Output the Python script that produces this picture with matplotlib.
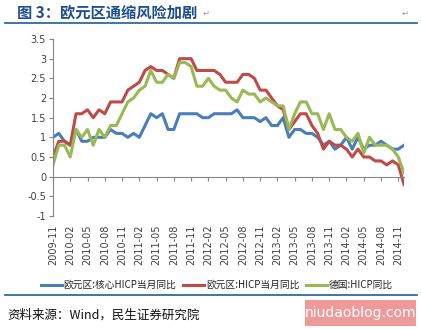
import matplotlib
matplotlib.use("Agg")
import matplotlib.pyplot as plt
import numpy as np
import pandas as pd
from matplotlib.lines import Line2D
from matplotlib.patches import Rectangle

plt.rcParams["font.family"] = ["Noto Sans CJK SC", "DejaVu Sans"]

# 月度数据 2009-11 ~ 2014-12
months = pd.date_range("2009-11-01", periods=62, freq="MS").strftime("%Y-%m").tolist()

core_hicp = [
    1.0, 1.1, 0.9, 0.8, 1.2, 0.9, 0.9, 1.0, 1.0, 1.0, 1.2, 1.1,
    1.1, 1.0, 1.1, 1.0, 1.3, 1.6, 1.5, 1.6, 1.2, 1.2, 1.6, 1.6,
    1.6, 1.6, 1.5, 1.5, 1.6, 1.6, 1.6, 1.6, 1.7, 1.5, 1.5, 1.5,
    1.4, 1.5, 1.3, 1.3, 1.5, 1.0, 1.2, 1.2, 1.1, 1.1, 1.0, 0.8,
    0.9, 0.7, 0.8, 1.0, 0.7, 1.0, 0.7, 0.8, 0.8, 0.9, 0.8, 0.7,
    0.7, 0.8,
]
euro_hicp = [
    0.5, 0.9, 0.9, 0.8, 1.6, 1.6, 1.7, 1.5, 1.7, 1.6, 1.9, 1.9,
    1.9, 2.2, 2.3, 2.4, 2.7, 2.8, 2.7, 2.7, 2.6, 2.5, 3.0, 3.0,
    3.0, 2.7, 2.7, 2.7, 2.7, 2.6, 2.4, 2.4, 2.4, 2.6, 2.6, 2.5,
    2.2, 2.2, 2.0, 1.8, 1.7, 1.2, 1.4, 1.6, 1.6, 1.3, 1.1, 0.7,
    0.9, 0.8, 0.8, 0.7, 0.5, 0.7, 0.5, 0.5, 0.4, 0.4, 0.3, 0.4,
    0.3, -0.2,
]
germany_hicp = [
    0.3, 0.8, 0.8, 0.5, 1.2, 1.0, 1.2, 0.8, 1.2, 1.0, 1.3, 1.3,
    1.6, 1.9, 2.0, 2.2, 2.3, 2.7, 2.4, 2.4, 2.6, 2.5, 2.9, 2.9,
    2.8, 2.3, 2.3, 2.5, 2.3, 2.2, 2.2, 2.0, 1.9, 2.2, 2.1, 2.1,
    1.9, 2.0, 1.9, 1.8, 1.8, 1.2, 1.6, 1.9, 1.9, 1.6, 1.6, 1.2,
    1.6, 1.2, 1.2, 1.0, 0.9, 1.1, 0.6, 1.0, 0.8, 0.8, 0.8, 0.7,
    0.5, 0.1,
]
series_labels = ["欧元区:核心HICP当月同比", "欧元区:HICP当月同比", "德国:HICP同比"]
series_colors = ["#4A7EBB", "#BE4B48", "#98B954"]

axis_color = "#868686"
text_color = "#404040"

fig = plt.figure(figsize=(4.21, 3.29), dpi=100)
ax = fig.add_axes([53 / 421, 1 - 216 / 329, 351 / 421, 177 / 329])

x = np.arange(len(months))
for vals, lab, col in zip([core_hicp, euro_hicp, germany_hicp], series_labels, series_colors):
    ax.plot(x, vals, color=col, linewidth=2.2, label=lab, solid_joinstyle="round")

ax.set_xlim(0, len(months) - 1)
ax.set_ylim(-1, 3.5)

# y轴
yt = np.arange(-1, 3.51, 0.5)
ax.set_yticks(yt)
ax.set_yticklabels([f"{v:g}" for v in yt], fontsize=7, color=text_color, family="DejaVu Sans")
ax.tick_params(axis="y", direction="out", length=3, width=0.8, color=axis_color, pad=2)

# x轴（0处横线，刻度朝下；标签放在底部）
for s in ["top", "right"]:
    ax.spines[s].set_visible(False)
ax.spines["left"].set_color(axis_color)
ax.spines["left"].set_linewidth(0.8)
ax.spines["bottom"].set_position(("data", 0))
ax.spines["bottom"].set_color(axis_color)
ax.spines["bottom"].set_linewidth(0.8)
tick_idx = x[::3]
ax.set_xticks(tick_idx)
ax.tick_params(axis="x", direction="out", length=3, width=0.8, color=axis_color, labelbottom=False)

sec = ax.secondary_xaxis("bottom")
sec.spines["bottom"].set_visible(False)
sec.set_xticks(tick_idx)
sec.set_xticklabels([months[i] for i in tick_idx], rotation=90, fontsize=7,
                    color=text_color, family="DejaVu Sans")
sec.tick_params(axis="x", length=0, pad=6)

# 图例
handles = [Line2D([], [], color=c, linewidth=2.2) for c in series_colors]
fig.legend(handles, series_labels, loc="center", bbox_to_anchor=(0.515, 1 - 285 / 329),
           ncol=3, frameon=False, fontsize=7, handlelength=2.2, handletextpad=0.15,
           columnspacing=0.7, labelcolor="#222222", borderpad=0, borderaxespad=0)

# 标题与分隔线
fig.text(17 / 421, 1 - 12 / 329, "图 3：欧元区通缩风险加剧", fontsize=11, fontweight="bold",
         color="#1F4E8C", va="center", ha="left")
fig.text(203 / 421, 1 - 13 / 329, "\u21b5", fontsize=6, color="#999999", va="center",
         family="DejaVu Sans")
fig.text(402 / 421, 1 - 13 / 329, "\u21b5", fontsize=6, color="#999999", va="center",
         family="DejaVu Sans")
fig.add_artist(Line2D([5 / 421, 417 / 421], [1 - 23 / 329] * 2, color="#1F5C99", linewidth=1.2))
fig.add_artist(Line2D([5 / 421, 417 / 421], [1 - 295 / 329] * 2, color="#1F5C99", linewidth=1.2))

# 资料来源
fig.text(7 / 421, 1 - 315 / 329, "资料来源：Wind，民生证券研究院", fontsize=9,
         color="#111111", va="center", ha="left")

# 水印
fig.add_artist(Rectangle((305 / 421, 1 - 326 / 329), 111 / 421, 26 / 329,
                         transform=fig.transFigure, color="#EF9A9A", linewidth=0))
fig.text(360.5 / 421, 1 - 313 / 329, "niudaoblog.com", fontsize=10, color="white",
         va="center", ha="center", family="DejaVu Sans")

fig.savefig("out.png", dpi=100)
